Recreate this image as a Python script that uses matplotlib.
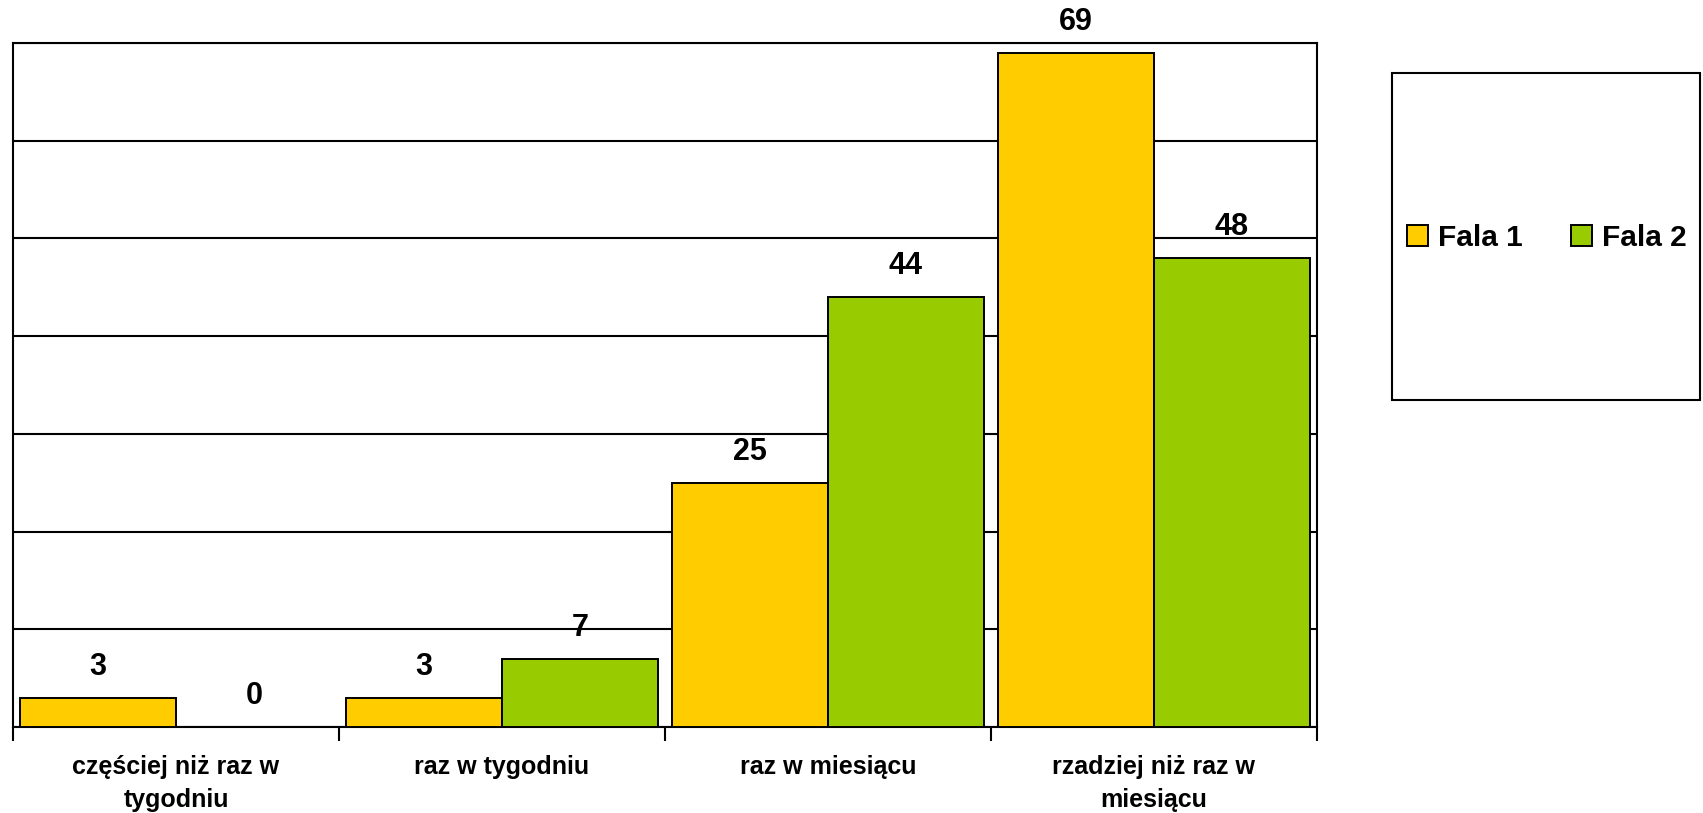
import matplotlib
matplotlib.use("Agg")
import matplotlib.pyplot as plt
import numpy as np
from matplotlib.patches import Rectangle

categories = ["częściej niż raz w\ntygodniu", "raz w tygodniu", "raz w miesiącu", "rzadziej niż raz w\nmiesiącu"]
series_names = ["Fala 1", "Fala 2"]
fala1 = [3, 3, 25, 69]
fala2 = [0, 7, 44, 48]
colors = ["#FFCC00", "#99CC00"]

FONT = ["Liberation Sans", "DejaVu Sans"]
plt.rcParams['font.family'] = FONT
plt.rcParams['font.weight'] = 'bold'

W, H = 1703, 813
fig = plt.figure(figsize=(W/100, H/100), dpi=100)
ax = fig.add_axes([13/W, (H-727)/H, (1317-13)/W, (727-43)/H])

x = np.arange(len(categories))
bw = 0.478
b1 = ax.bar(x - bw/2, fala1, bw, color=colors[0], edgecolor="black", linewidth=1.4, label=series_names[0], zorder=3)
b2 = ax.bar(x + bw/2, fala2, bw, color=colors[1], edgecolor="black", linewidth=1.4, label=series_names[1], zorder=3)

for bars, vals in ((b1, fala1), (b2, fala2)):
    for r, v in zip(bars, vals):
        ax.annotate(str(v), (r.get_x() + r.get_width()/2, r.get_height()),
                    xytext=(0, 16.5), textcoords="offset points", ha="center", va="baseline",
                    fontsize=22, fontweight="bold", family=FONT)

ax.set_xlim(-0.5, len(categories) - 0.5)
ax.set_ylim(0, 70)
ax.set_yticks(np.arange(0, 71, 10))
ax.set_yticklabels([])
ax.tick_params(axis='y', length=0)
ax.yaxis.grid(True, color="black", linewidth=1.5, zorder=0)
ax.set_axisbelow(True)

ax.set_xticks(x)
ax.set_xticklabels(categories, fontsize=18, fontweight="bold", linespacing=1.5)
ax.tick_params(axis='x', which='major', length=0, pad=20)
ax.set_xticks(np.arange(-0.5, len(categories), 1), minor=True)
ax.tick_params(axis='x', which='minor', length=10, width=1.5, direction='out')

for s in ax.spines.values():
    s.set_linewidth(1.5)
    s.set_color("black")

# legend box
fig.patches.append(Rectangle((1392/W, (H-400)/H), (1702-1392)/W - 0.001, (400-73)/H,
                             transform=fig.transFigure, fill=False, edgecolor="black", linewidth=1.5))
leg = fig.legend(handles=[b1, b2], labels=series_names, loc="center",
                 bbox_to_anchor=((1392+1702)/2/W, (H-238)/H), ncol=2, frameon=False,
                 prop={'size': 21.5, 'weight': 'bold', 'family': FONT},
                 handlelength=0.7, handleheight=0.7, handletextpad=0.35, columnspacing=1.6)

fig.savefig("out.png", dpi=100)
